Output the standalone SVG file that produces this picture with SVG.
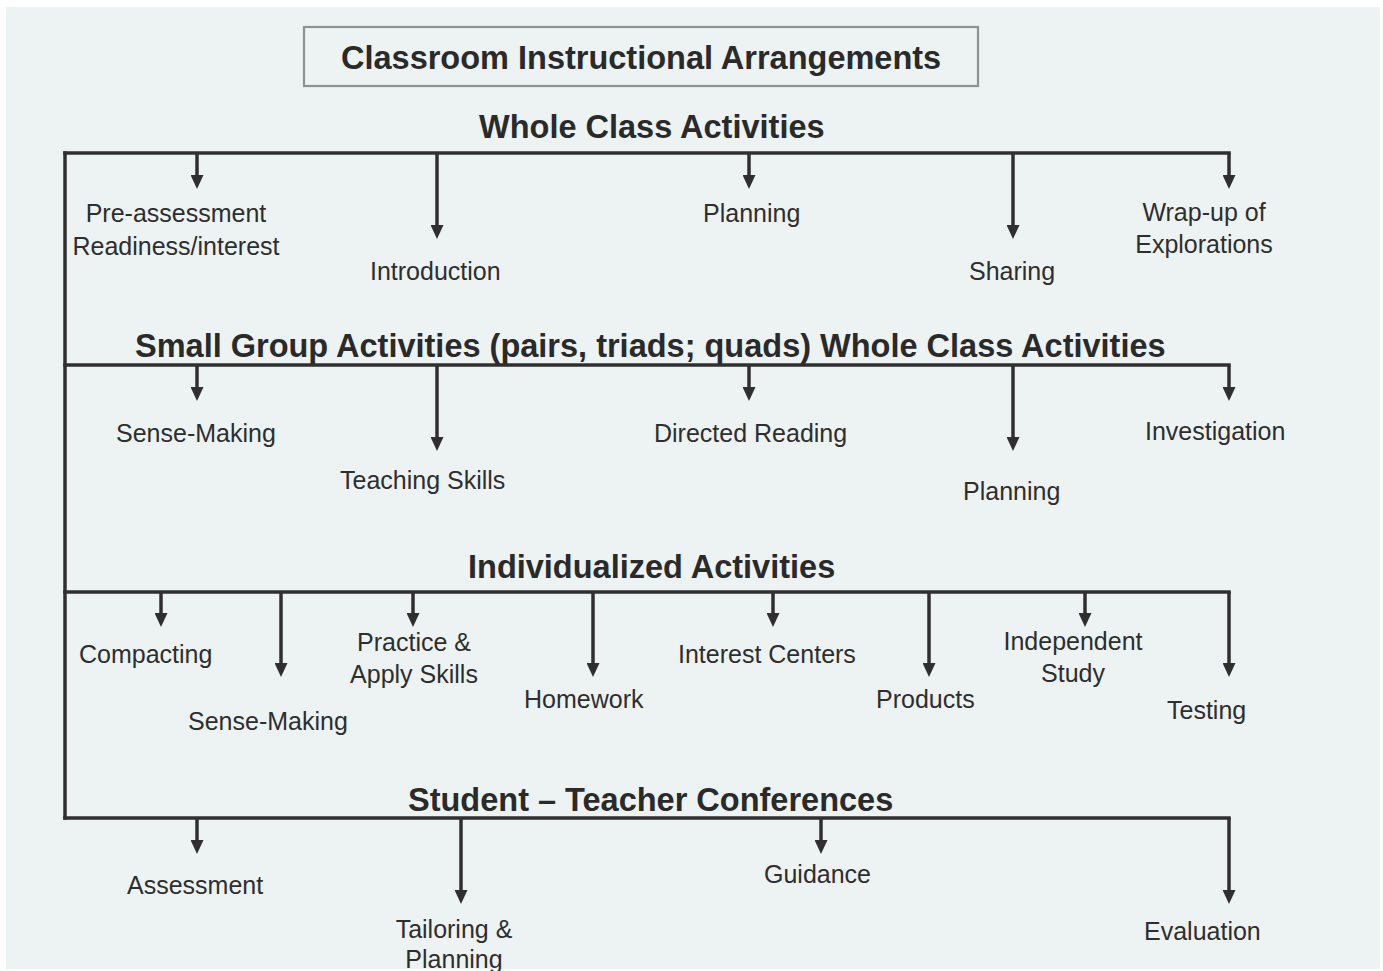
<svg xmlns="http://www.w3.org/2000/svg" width="1383" height="971" viewBox="0 0 1383 971">
  <style>
    .heading { font-family: "Liberation Sans", Arial, sans-serif; font-weight: bold; font-size: 32.5px; fill: #2a2a2a; }
    .label { font-family: "Liberation Sans", Arial, sans-serif; font-size: 25px; fill: #2e2e2e; }
    .wire { fill: none; stroke: #2f2f2f; stroke-width: 3.5; stroke-linecap: square; stroke-linejoin: miter; }
    .branch { fill: none; stroke: #2f2f2f; stroke-width: 3.5; marker-end: url(#head); }
  </style>
  <defs>
    <marker id="head" markerUnits="userSpaceOnUse" markerWidth="14" markerHeight="13" viewBox="0 0 14 13" refX="8" refY="6.5" orient="auto">
      <path d="M0,0 L14,6.5 L0,13 z" fill="#2f2f2f"/>
    </marker>
  </defs>

  <!-- paper -->
  <rect x="0" y="0" width="1383" height="971" fill="#ffffff"/>
  <rect x="6" y="7" width="1374" height="962" fill="#edf3f2"/>

  <!-- title -->
  <g id="title">
    <rect x="304" y="27" width="674" height="59" fill="none" stroke="#8e9290" stroke-width="2.2"/>
    <text class="heading" x="341" y="69">Classroom Instructional Arrangements</text>
  </g>

  <!-- section headings -->
  <g id="whole-class">
    <text class="heading" x="479" y="138">Whole Class Activities</text>
  </g>
  <g id="small-group">
    <text class="heading" x="135" y="357">Small Group Activities (pairs, triads; quads) Whole Class Activities</text>
  </g>
  <g id="individualized">
    <text class="heading" x="468" y="578">Individualized Activities</text>
  </g>
  <g id="conferences">
    <text class="heading" x="408" y="811">Student – Teacher Conferences</text>
  </g>

  <!-- connectors: spine, bars and drop arrows -->
  <g id="connectors">
    <path class="wire" d="M65,153 V818"/>
    <path class="wire" d="M65,153 H1229"/>
    <path class="wire" d="M65,365 H1229"/>
    <path class="wire" d="M65,592 H1229"/>
    <path class="wire" d="M65,818 H1229"/>

    <!-- whole class -->
    <path class="branch" d="M197,153 V183"/>
    <path class="branch" d="M437,153 V233"/>
    <path class="branch" d="M749,153 V183"/>
    <path class="branch" d="M1013,153 V233"/>
    <path class="branch" d="M1229,153 V183"/>

    <!-- small group -->
    <path class="branch" d="M197,365 V395"/>
    <path class="branch" d="M437,365 V445"/>
    <path class="branch" d="M749,365 V395"/>
    <path class="branch" d="M1013,365 V445"/>
    <path class="branch" d="M1229,365 V395"/>

    <!-- individualized -->
    <path class="branch" d="M161,592 V621"/>
    <path class="branch" d="M281,592 V671"/>
    <path class="branch" d="M413,592 V621"/>
    <path class="branch" d="M593,592 V671"/>
    <path class="branch" d="M773,592 V621"/>
    <path class="branch" d="M929,592 V671"/>
    <path class="branch" d="M1085,592 V621"/>
    <path class="branch" d="M1229,592 V671"/>

    <!-- conferences -->
    <path class="branch" d="M197,818 V848"/>
    <path class="branch" d="M461,818 V898"/>
    <path class="branch" d="M821,818 V848"/>
    <path class="branch" d="M1229,818 V898"/>
  </g>

  <!-- whole class items -->
  <g id="pre-assessment">
    <text class="label" x="176" y="222" text-anchor="middle">Pre-assessment</text>
    <text class="label" x="176" y="255" text-anchor="middle">Readiness/interest</text>
  </g>
  <g id="introduction"><text class="label" x="370" y="280">Introduction</text></g>
  <g id="planning-1"><text class="label" x="703" y="222">Planning</text></g>
  <g id="sharing"><text class="label" x="969" y="280">Sharing</text></g>
  <g id="wrap-up">
    <text class="label" x="1204" y="221" text-anchor="middle">Wrap-up of</text>
    <text class="label" x="1204" y="253" text-anchor="middle">Explorations</text>
  </g>

  <!-- small group items -->
  <g id="sense-making-1"><text class="label" x="116" y="442">Sense-Making</text></g>
  <g id="teaching-skills"><text class="label" x="340" y="489">Teaching Skills</text></g>
  <g id="directed-reading"><text class="label" x="654" y="442">Directed Reading</text></g>
  <g id="planning-2"><text class="label" x="963" y="500">Planning</text></g>
  <g id="investigation"><text class="label" x="1145" y="440">Investigation</text></g>

  <!-- individualized items -->
  <g id="compacting"><text class="label" x="79" y="663">Compacting</text></g>
  <g id="sense-making-2"><text class="label" x="188" y="730">Sense-Making</text></g>
  <g id="practice">
    <text class="label" x="414" y="651" text-anchor="middle">Practice &amp;</text>
    <text class="label" x="414" y="683" text-anchor="middle">Apply Skills</text>
  </g>
  <g id="homework"><text class="label" x="524" y="708">Homework</text></g>
  <g id="interest-centers"><text class="label" x="678" y="663">Interest Centers</text></g>
  <g id="products"><text class="label" x="876" y="708">Products</text></g>
  <g id="independent-study">
    <text class="label" x="1073" y="650" text-anchor="middle">Independent</text>
    <text class="label" x="1073" y="682" text-anchor="middle">Study</text>
  </g>
  <g id="testing"><text class="label" x="1167" y="719">Testing</text></g>

  <!-- conference items -->
  <g id="assessment"><text class="label" x="127" y="894">Assessment</text></g>
  <g id="tailoring">
    <text class="label" x="454" y="938" text-anchor="middle">Tailoring &amp;</text>
    <text class="label" x="454" y="968" text-anchor="middle">Planning</text>
  </g>
  <g id="guidance"><text class="label" x="764" y="883">Guidance</text></g>
  <g id="evaluation"><text class="label" x="1144" y="940">Evaluation</text></g>
</svg>
